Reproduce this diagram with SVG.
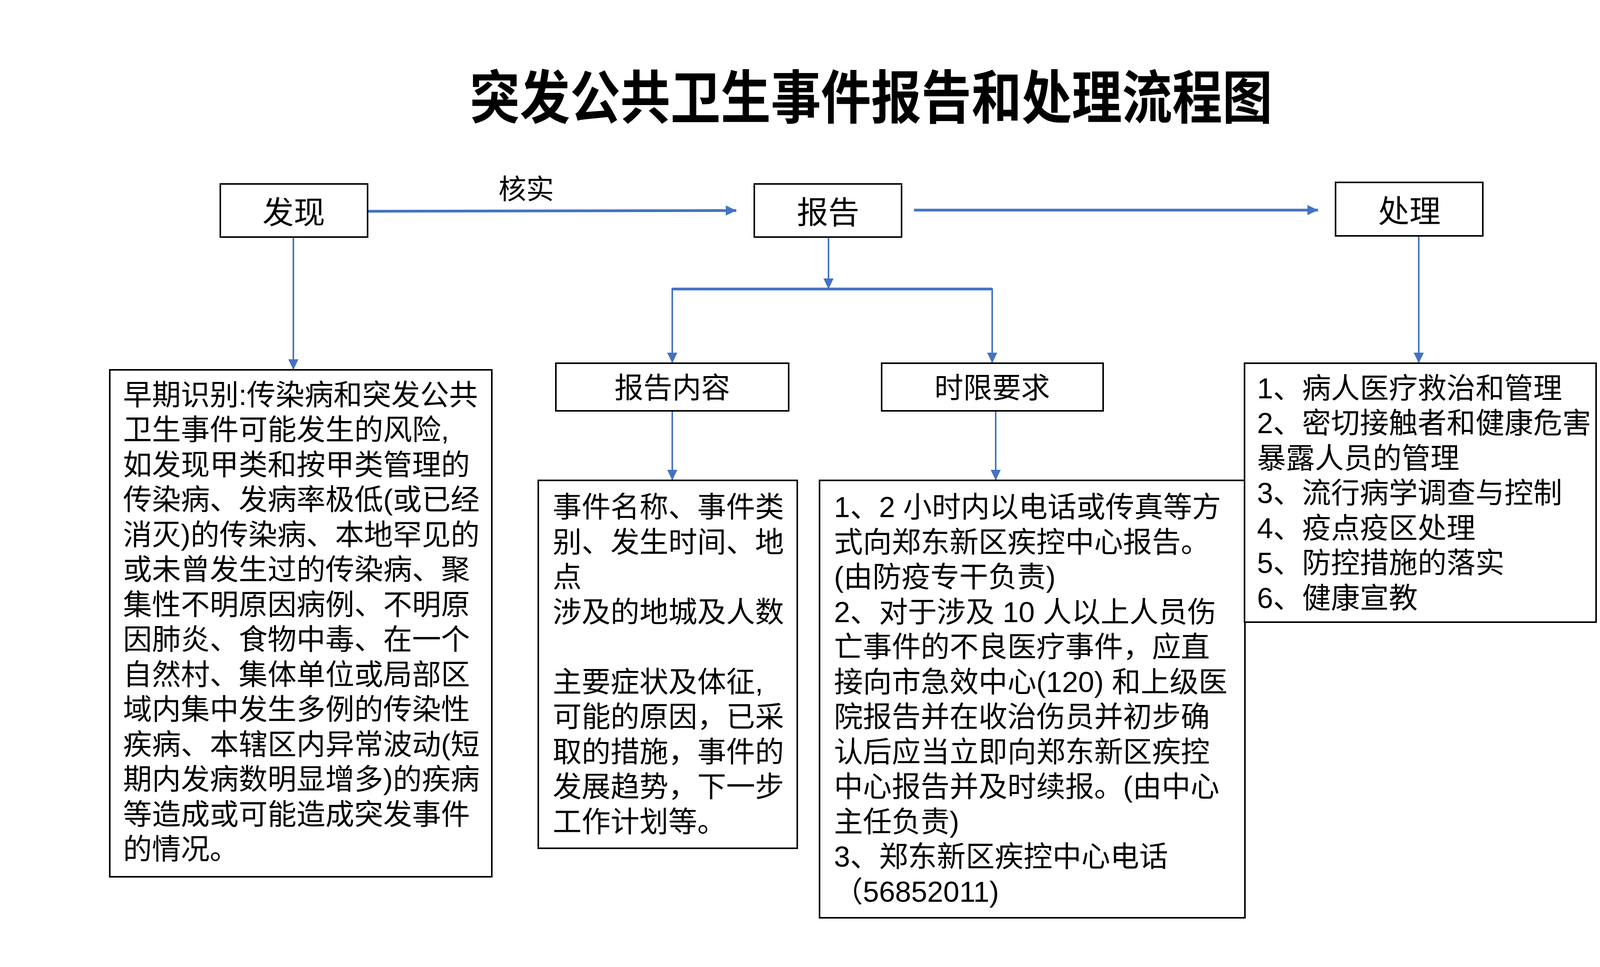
<svg xmlns="http://www.w3.org/2000/svg" width="4400" height="2476" viewBox="0 0 4400 2476">
<style>
text{font-family:"Liberation Sans","Noto Sans CJK SC",sans-serif;fill:#000}
.box{fill:#fff;stroke:#000;stroke-width:4}
.t{font-size:74px}
.lbl{font-size:80px;text-anchor:middle}
.sub{font-size:74px;text-anchor:middle}
.title{font-family:"Noto Sans CJK SC","Noto Sans CJK TC",sans-serif;font-size:148px;font-weight:bold;text-anchor:middle}
.c{fill:none;stroke:#4472C4;stroke-width:4}
.ct{fill:none;stroke:#4472C4;stroke-width:7}
</style>
<defs>
<marker id="ah" markerUnits="userSpaceOnUse" markerWidth="28" markerHeight="28" refX="27" refY="13" orient="auto" viewBox="0 0 28 26">
<path d="M0,0 L27,13 L0,26 z" fill="#4472C4"/>
</marker>
</defs>
<rect width="4400" height="2476" fill="#fff"/>
<text class="title" x="2230" y="303" textLength="2055" lengthAdjust="spacingAndGlyphs">突发公共卫生事件报告和处理流程图</text>

<g id="connectors">
<line class="ct" x1="941" y1="541" x2="1885" y2="539" marker-end="url(#ah)"/>
<line class="ct" x1="2340" y1="538" x2="3374" y2="538" marker-end="url(#ah)"/>
<line class="c" x1="2121" y1="607" x2="2121" y2="740" marker-end="url(#ah)"/>
<polyline class="ct" points="1721,740 2540,740"/>
<line class="c" x1="1721" y1="738" x2="1721" y2="930" marker-end="url(#ah)"/>
<line class="c" x1="2540" y1="738" x2="2540" y2="930" marker-end="url(#ah)"/>
<line class="c" x1="1721" y1="1052" x2="1721" y2="1230" marker-end="url(#ah)"/>
<line class="c" x1="2549" y1="1052" x2="2549" y2="1230" marker-end="url(#ah)"/>
<line class="c" x1="751" y1="607" x2="751" y2="947" marker-end="url(#ah)"/>
<line class="c" x1="3632" y1="604" x2="3632" y2="930" marker-end="url(#ah)"/>
<text x="1347" y="509" style="font-size:71px;text-anchor:middle">核实</text>
</g>

<g id="faxian">
<rect class="box" x="564" y="471" width="377" height="136"/>
<text class="lbl" x="752" y="572">发现</text>
</g>
<g id="baogao">
<rect class="box" x="1931" y="471" width="377" height="136"/>
<text class="lbl" x="2120" y="572">报告</text>
</g>
<g id="chuli">
<rect class="box" x="3419" y="467" width="377" height="137"/>
<text class="lbl" x="3608" y="569">处理</text>
</g>
<g id="baogaoneirong">
<rect class="box" x="1423" y="930" width="596" height="122"/>
<text class="sub" x="1721" y="1019">报告内容</text>
</g>
<g id="shixianyaoqiu">
<rect class="box" x="2257" y="930" width="567" height="122"/>
<text class="sub" x="2540" y="1019">时限要求</text>
</g>

<g id="zaoqishibie">
<rect class="box" x="281" y="947" width="978" height="1298"/>
<text class="t" x="315" y="1037">早期识别:传染病和突发公共</text>
<text class="t" x="315" y="1126">卫生事件可能发生的风险,</text>
<text class="t" x="315" y="1216">如发现甲类和按甲类管理的</text>
<text class="t" x="315" y="1305">传染病、发病率极低(或已经</text>
<text class="t" x="315" y="1395">消灭)的传染病、本地罕见的</text>
<text class="t" x="315" y="1484">或未曾发生过的传染病、聚</text>
<text class="t" x="315" y="1574">集性不明原因病例、不明原</text>
<text class="t" x="315" y="1663">因肺炎、食物中毒、在一个</text>
<text class="t" x="315" y="1753">自然村、集体单位或局部区</text>
<text class="t" x="315" y="1842">域内集中发生多例的传染性</text>
<text class="t" x="315" y="1932">疾病、本辖区内异常波动(短</text>
<text class="t" x="315" y="2021">期内发病数明显增多)的疾病</text>
<text class="t" x="315" y="2111">等造成或可能造成突发事件</text>
<text class="t" x="315" y="2200">的情况。</text>
</g>

<g id="neirong">
<rect class="box" x="1378" y="1230" width="663" height="942"/>
<text class="t" x="1415" y="1324">事件名称、事件类</text>
<text class="t" x="1415" y="1414">别、发生时间、地</text>
<text class="t" x="1415" y="1503">点</text>
<text class="t" x="1415" y="1593">涉及的地城及人数</text>
<text class="t" x="1415" y="1772">主要症状及体征,</text>
<text class="t" x="1415" y="1861">可能的原因，已采</text>
<text class="t" x="1415" y="1951">取的措施，事件的</text>
<text class="t" x="1415" y="2040">发展趋势，下一步</text>
<text class="t" x="1415" y="2130">工作计划等。</text>
</g>

<g id="shixian">
<rect class="box" x="2098" y="1230" width="1089" height="1120"/>
<text class="t" x="2135" y="1324">1、2 小时内以电话或传真等方</text>
<text class="t" x="2135" y="1414">式向郑东新区疾控中心报告。</text>
<text class="t" x="2135" y="1503">(由防疫专干负责)</text>
<text class="t" x="2135" y="1593">2、对于涉及 10 人以上人员伤</text>
<text class="t" x="2135" y="1682">亡事件的不良医疗事件，应直</text>
<text class="t" x="2135" y="1772">接向市急效中心(120) 和上级医</text>
<text class="t" x="2135" y="1861">院报告并在收治伤员并初步确</text>
<text class="t" x="2135" y="1951">认后应当立即向郑东新区疾控</text>
<text class="t" x="2135" y="2040">中心报告并及时续报。(由中心</text>
<text class="t" x="2135" y="2130">主任负责)</text>
<text class="t" x="2135" y="2219">3、郑东新区疾控中心电话</text>
<text class="t" x="2135" y="2309">（56852011)</text>
</g>

<g id="chulineirong">
<rect class="box" x="3186" y="930" width="900" height="663"/>
<text class="t" x="3218" y="1020">1、病人医疗救治和管理</text>
<text class="t" x="3218" y="1109">2、密切接触者和健康危害</text>
<text class="t" x="3218" y="1199">暴露人员的管理</text>
<text class="t" x="3218" y="1288">3、流行病学调查与控制</text>
<text class="t" x="3218" y="1378">4、疫点疫区处理</text>
<text class="t" x="3218" y="1467">5、防控措施的落实</text>
<text class="t" x="3218" y="1557">6、健康宣教</text>
</g>
</svg>
